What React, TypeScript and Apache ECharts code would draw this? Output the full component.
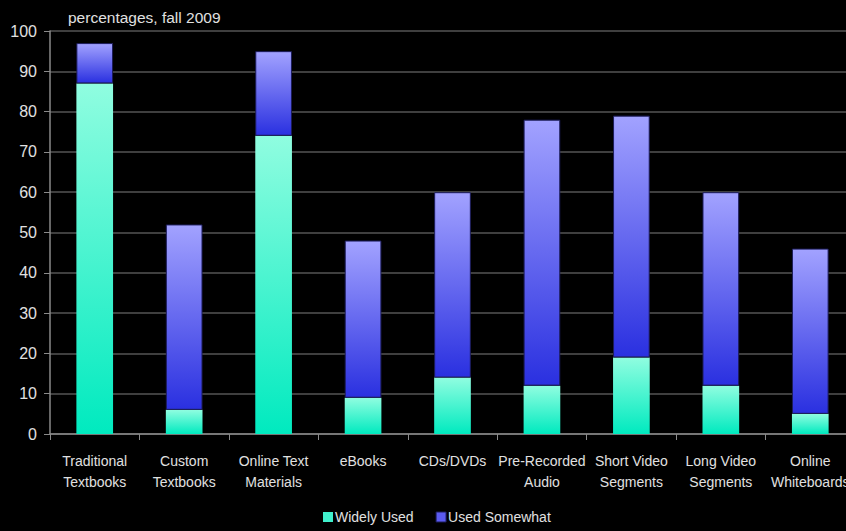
import React, { useEffect, useRef } from "react";
import * as echarts from "echarts";

const categories = [
  "Traditional\nTextbooks",
  "Custom\nTextbooks",
  "Online Text\nMaterials",
  "eBooks",
  "CDs/DVDs",
  "Pre-Recorded\nAudio",
  "Short Video\nSegments",
  "Long Video\nSegments",
  "Online\nWhiteboards",
];
const widelyUsed = [87, 6, 74, 9, 14, 12, 19, 12, 5];
const usedSomewhat = [10, 46, 21, 39, 46, 66, 60, 48, 41];
const yTicks = [0, 10, 20, 30, 40, 50, 60, 70, 80, 90, 100];

const FONT = "'Liberation Sans Narrow', 'Liberation Sans', Arial, sans-serif";

export default function App() {
  const ref = useRef<HTMLDivElement>(null);
  useEffect(() => {
    if (!ref.current) return;
    const chart = echarts.init(ref.current, null, { renderer: "svg" });
    chart.setOption({
      animation: false,
      backgroundColor: "#000000",
      title: {
        text: "percentages, fall 2009",
        left: 63,
        top: 4,
        textStyle: { color: "#e0e0e0", fontSize: 15.5, fontWeight: "normal", fontFamily: FONT },
      },
      grid: { left: 50, top: 31, bottom: 97, width: 805, containLabel: false, outerBoundsMode: "none" },
      legend: {
        bottom: 2,
        left: 318,
        itemWidth: 10,
        itemHeight: 10,
        itemGap: 22,
        icon: "rect",
        textStyle: { color: "#e0e0e0", fontSize: 14, fontFamily: FONT, padding: [0, 0, 0, -3] },
        data: [
          { name: "Widely Used", itemStyle: { color: "#40f0cc" } },
          { name: "Used Somewhat", itemStyle: { color: "#5a5af0", borderColor: "#1c1c5a", borderWidth: 1 } },
        ],
      },
      xAxis: {
        type: "category",
        data: categories,
        axisLine: { lineStyle: { color: "#8a8a8a", width: 1.5 } },
        axisTick: { show: true, length: 6, lineStyle: { color: "#8a8a8a" } },
        axisLabel: {
          color: "#e0e0e0",
          fontSize: 14,
          fontFamily: FONT,
          lineHeight: 21,
          margin: 16,
          interval: 0,
        },
      },
      yAxis: {
        type: "value",
        min: 0,
        max: 100,
        interval: 10,
        axisLine: { show: true, lineStyle: { color: "#8a8a8a", width: 1.5 } },
        axisTick: { show: true, length: 6, lineStyle: { color: "#8a8a8a" } },
        axisLabel: {
          color: "#e0e0e0",
          fontSize: 16,
          fontFamily: FONT,
          margin: 13,
          formatter: (v: number) => (yTicks.includes(v) ? String(v) : ""),
        },
        splitLine: { show: true, lineStyle: { color: "#555555", width: 1.5 } },
      },
      series: [
        {
          name: "Widely Used",
          type: "bar",
          stack: "total",
          barWidth: "41%",
          data: widelyUsed,
          itemStyle: {
            color: new echarts.graphic.LinearGradient(0, 0, 0, 1, [
              { offset: 0, color: "#90fde0" },
              { offset: 1, color: "#00eabf" },
            ]),
          },
        },
        {
          name: "Used Somewhat",
          type: "bar",
          stack: "total",
          barWidth: "41%",
          data: usedSomewhat,
          itemStyle: {
            borderColor: "#1c1c5a",
            borderWidth: 1,
            color: new echarts.graphic.LinearGradient(0, 0, 0, 1, [
              { offset: 0, color: "#a2a2ff" },
              { offset: 1, color: "#2a30e0" },
            ]),
          },
        },
      ],
    });
    return () => chart.dispose();
  }, []);
  return <div ref={ref} style={{ width: 846, height: 531, position: "absolute", left: 0, top: 0 }} />;
}
